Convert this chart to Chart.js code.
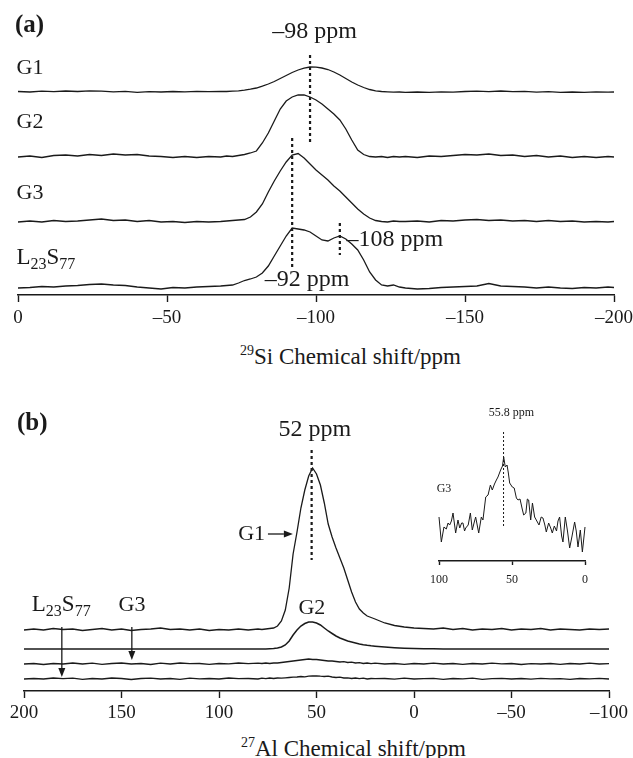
<!DOCTYPE html>
<html>
<head>
<meta charset="utf-8">
<script src="https://cdn.jsdelivr.net/npm/chart.js@4.4.0/dist/chart.umd.min.js"></script>
<style>
    body { margin: 0; background: #fff; }
    .figure { position: relative; width: 633px; height: 758px; overflow: hidden; font-family: "Liberation Serif", "Times New Roman", serif; color: #1a1a1a; }
    .figure canvas { position: absolute; }
    .label { position: absolute; white-space: nowrap; line-height: 24px; font-size: 23px; }
    .label sup { font-size: 14px; line-height: 0; vertical-align: 9px; }
    .panel { font-size: 25px; font-weight: bold; }
</style>
</head>
<body>
<div class="figure">
    <canvas id="siChart" width="633" height="335" style="left:0px;top:0px"></canvas>
    <canvas id="alChart" width="633" height="345" style="left:0px;top:380px"></canvas>
    <canvas id="insetChart" width="200" height="200" style="left:420px;top:395px"></canvas>
    <div class="label panel" style="left:15px;top:12px">(a)</div>
    <div class="label panel" style="left:17px;top:410px">(b)</div>
    <div class="label" style="left:240px;top:345px"><sup>29</sup>Si Chemical shift/ppm</div>
    <div class="label" style="left:241px;top:737px"><sup>27</sup>Al Chemical shift/ppm</div>
</div>
<script>
// Start data
const siShift = [0, -4, -8, -12, -16, -20, -24, -28, -32, -36, -40, -44, -48, -52, -56, -60, -64, -68,
    -70, -72, -74, -76, -78, -80, -82, -84, -86, -88, -90, -92, -94, -96, -98, -100,
    -102, -104, -106, -108, -110, -112, -114, -116, -118, -120, -122, -124, -126, -128, -130,
    -134, -138, -142, -146, -150, -154, -158, -162, -166, -170, -174, -178, -182, -186, -190, -194, -198, -200]
const siG1 = [0.5, 0, 0.8, 0.3, 1, 0.5, 1.2, 0.8, 0.2, 0.6, -0.3, 0.4, 0, 0.5, 0.2, 0.6, 0.3, 0.5,
    0.5, 0.8, 1.2, 1.8, 2.8, 4, 5.8, 8, 10.5, 13.5, 16.5, 19.5, 22, 23.8, 25, 24.8,
    24, 22.5, 20, 17, 13.5, 10, 7, 4.5, 2.5, 1.2, 0.5, 0.2, -0.2, 0, -0.4,
    0, -0.3, 0.2, -0.2, 0.5, 0.9, 0.4, 1, 0.3, 0.6, -0.2, 0.3, -0.4, 0, -0.3, 0.2, -0.2, 0]
const siG2 = [0, 1, -0.5, 1.5, 2, 1, 2.5, 1.5, 3, 2, 2.5, 1, 0.5, -0.5, 0.5, -0.5, 0.5, 0,
    1, 0.5, 1.5, 2.5, 4, 6, 14, 24, 36, 48, 56, 60, 62, 62, 60, 57,
    53, 48, 43, 37, 28, 17, 7, 2.5, 0.5, 0, 0.5, -0.5, 0.5, 0, 0.5,
    -0.5, 1, 0.5, 1.5, 2.5, 2, 3, 1.5, 2, 0.5, 1.5, 0, 1, -0.5, 0.5, -0.5, 0.5, 0]
const siG3 = [0, 1, 0, 1.5, 0.5, 1, 2, 3, 1.5, 2, 0.5, 1.5, 0, 0.5, -0.5, 0.5, 0, 0.5,
    1, 1.5, 2, 2.5, 5, 10, 18, 30, 41, 51, 60, 67, 68.5, 64, 58, 52,
    47, 42, 36, 31, 25, 19, 13, 8, 4, 1.5, 0.5, 0, 1, 0.5, 0.5,
    1, 0, 1.5, 1, 2, 2.5, 1.5, 2, 1, 1.5, 0.5, 1.5, 0.5, 1, 0, 0.5, 0, 0.5]
const siL23S77 = [0, 0.5, 1.5, 1, 2, 2.5, 3.5, 4, 3, 2.5, 1, 0, -1, 0.5, 0, 1, 1.5, 2,
    2.5, 3, 5, 7.5, 9, 11, 15, 22, 32, 42, 52, 60, 59, 58, 56, 52,
    48, 47, 50, 52, 49, 44, 38, 28, 16, 8, 3, 2, 3, 1, 0,
    -1, -0.5, 0.5, 1, 1.5, 2, 4.5, 2, 1.5, 1, 0, 1, 0, -0.5, 0.5, 0, 1, 0.5]

const alShift = [200, 195, 190, 185, 180, 175, 170, 165, 160, 155, 150, 145, 140, 135, 130, 125, 120, 115, 110, 105, 100, 95, 90, 85, 80,
    78, 76, 74, 72, 70, 68, 66, 64, 62, 60, 58, 56, 54, 52, 50, 48, 46, 44, 42, 40, 38, 36, 34, 32, 30, 28, 26, 24, 22, 20,
    15, 10, 5, 0, -5, -10, -15, -20, -25, -30, -35, -40, -45, -50, -55, -60, -65, -70, -75, -80, -85, -90, -95, -100]
const alG1 = [0, 1, 0, 1.5, 0.5, 1, -0.5, 0.5, 1.5, 0, 1, -0.5, 0.5, 1, 2, 0.5, 1, 0, 1, -0.5, 0.5, 0, 1, 0, 1,
    0.5, 1, 1.5, 2, 4, 9, 20, 42, 76, 98, 122, 140, 154, 162, 156, 145, 127, 106, 93, 82, 72, 62, 50, 38, 28, 21, 17, 14, 12.5, 11,
    7, 4.5, 3, 2, 1.5, 1, 2, 0.5, 1.5, 0, 1, 0.5, 1.5, 0, 1, 0.5, 1.5, 0, 1, 0.5, 0, 1, 0.5, 1]
const alG2 = [0, 0, 0, 0, 0, 0, 0, 0, 0, 0, 0, 0, 0, 0, 0, 0, 0, 0, 0, 0, 0, 0, 0, 0, 0,
    0, 0, 0.3, 0.5, 1, 2, 4, 8, 14, 19, 23, 25.5, 27, 27, 26, 24, 21, 18, 15.5, 13, 11, 9.5, 8, 7, 6, 5, 4.3, 3.7, 3.2, 2.8,
    2, 1.3, 0.8, 0.5, 0.3, 0.2, 0.1, 0, 0, 0, 0, 0, 0, 0, 0, 0, 0, 0, 0, 0, 0, 0, 0, 0]
const alG3 = [0, 0.5, -0.5, 0.5, 0, 1, 0, 0.8, -0.3, 0.5, 1, 0, 0.5, -0.5, 0.8, 0, 1, 0.3, 0.5, -0.3, 0.5, 0.2, 1, 0.3, 0.8,
    0.5, 1, 0.5, 1, 1, 1.5, 2, 2.5, 3, 3.5, 4, 4.5, 5, 4.5, 4.5, 4, 3.5, 3, 3, 2.5, 2, 2.3, 1.5, 1.8, 1, 1.3, 0.5, 1, 0.3, 0.8,
    0, 0.5, -0.3, 0.5, 0, 0.8, 0, 0.5, -0.3, 0.5, 0, 0.8, 0.2, 0.5, -0.5, 0.3, 0, 0.5, -0.3, 0.5, 0, 0.8, 0, 0.3]
const alL23S77 = [0, 0.5, 0, 1, 0.3, 0.8, -0.3, 0.5, 0, 1, 0.5, -0.5, 0.5, 0.8, 0, 0.5, -0.3, 0.8, 0.2, 0.5, 0, 1, 0.3, 0.5, 0,
    0.8, 0.3, 1, 0.5, 1, 0.8, 1.2, 1.5, 1.8, 2, 2.5, 2.2, 2.8, 3, 3.2, 2.8, 2.5, 2.8, 2, 1.5, 1.8, 1, 1.2, 0.5, 1, 0.3, 0.8, 0, 0.5, 0.3,
    0.5, -0.2, 0.8, 0, 0.3, 0.6, -0.3, 0.5, 0.1, 0.8, -0.4, 0.3, 0.6, 0, 0.5, -0.2, 0.7, 0.1, 0.4, -0.3, 0.5, 0.2, 0.6, 0]

const insetShift = [100, 98.4, 96.6, 95, 93.8, 92.7, 91.5, 90.4, 88.6, 87, 85.8, 84.5, 83.6, 82.5, 81.7,
    80, 78.5, 77.2, 76, 74.9, 72.8, 71, 69.9, 68, 66.4, 64.8, 63.5, 62, 60.7, 59.6,
    57.8, 56.5, 55.7, 54.6, 53.4, 52.5, 51.6, 49.8, 48.5, 47, 45.9, 44.5, 43, 42, 40.5,
    39.5, 38.6, 37.2, 36, 34.5, 33, 31.5, 30, 28.8, 27.5, 26.5, 24.9, 23.5, 22.4, 21,
    19.5, 18.5, 17.4, 16, 15.1, 13.5, 12, 10.5, 9, 7.1, 6, 4.8, 3.2, 1.8, 0]
const insetG3 = [44, 19, 34, 32, 38, 36, 40, 48, 28, 41, 33, 38, 38, 30, 33,
    36, 48, 31, 38, 44, 28, 44, 41, 64, 66, 76, 71, 77, 81, 84,
    91, 95, 104, 94, 96, 88, 78, 74, 73, 63, 61, 62, 52, 46, 48,
    62, 61, 41, 58, 44, 40, 36, 44, 43, 36, 29, 38, 33, 28, 35,
    30, 40, 44, 25, 19, 44, 30, 13, 24, 39, 30, 14, 31, 9, 34]

const siTicks = { min: -200, max: 0, step: 50 }
const alTicks = { min: -100, max: 200, step: 50 }
const insetTicks = { min: 0, max: 100, step: 50 }
// End data

const ink = '#1a1a1a'
const serif = '"Liberation Serif", "Times New Roman", serif'
const L23S77 = [['L', 0], ['23', 1], ['S', 0], ['77', 1]]

function spectrum(shift, values, offset, width) {
    return {
        data: shift.map((s, i) => ({ x: s, y: offset + values[i] })),
        borderColor: ink,
        borderWidth: width,
        pointRadius: 0,
        tension: 0,
        fill: false,
        clip: false
    }
}

function dashLabel(v) {
    return v < 0 ? '\u2013' + Math.abs(v) : String(v)
}

function xAxis(range, fontSize, tickLen, pad, height) {
    return {
        type: 'linear',
        min: range.min,
        max: range.max,
        reverse: true,
        ticks: { stepSize: range.step, color: ink, padding: pad, maxRotation: 0, font: { family: serif, size: fontSize }, callback: dashLabel },
        grid: { display: true, drawOnChartArea: false, drawTicks: true, tickLength: tickLen, tickColor: ink, tickWidth: 1.4 },
        border: { display: true, color: ink, width: 1.4 },
        afterFit: (scale) => {
            scale.height = height
            scale.paddingLeft = 0
            scale.paddingRight = 0
        }
    }
}

function drawParts(ctx, parts, x, y, size, align) {
    const subSize = Math.round(size * 0.68)
    const widths = parts.map((p) => {
        ctx.font = (p[1] ? subSize : size) + 'px ' + serif
        return ctx.measureText(p[0]).width
    })
    const total = widths.reduce((a, b) => a + b, 0)
    let cx = align === 'center' ? x - total / 2 : align === 'right' ? x - total : x
    parts.forEach((p, i) => {
        ctx.font = (p[1] ? subSize : size) + 'px ' + serif
        ctx.fillText(p[0], cx, p[1] ? y + size * 0.3 : y)
        cx += widths[i]
    })
}

function drawArrow(ctx, x0, y0, x1, y1) {
    const ang = Math.atan2(y1 - y0, x1 - x0)
    const head = 9, half = 3.5
    const bx = x1 - head * Math.cos(ang), by = y1 - head * Math.sin(ang)
    ctx.beginPath()
    ctx.moveTo(x0, y0)
    ctx.lineTo(bx, by)
    ctx.stroke()
    ctx.beginPath()
    ctx.moveTo(x1, y1)
    ctx.lineTo(bx + half * Math.sin(ang), by - half * Math.cos(ang))
    ctx.lineTo(bx - half * Math.sin(ang), by + half * Math.cos(ang))
    ctx.closePath()
    ctx.fill()
}

// annotations are placed in data units, through the chart's own scales
function marks(cfg) {
    return {
        id: 'marks',
        afterDatasetsDraw(chart) {
            const ctx = chart.ctx
            const xs = chart.scales.x, ys = chart.scales.y
            ctx.save()
            ctx.strokeStyle = ink
            ctx.fillStyle = ink;
            (cfg.dashes || []).forEach((d) => {
                ctx.lineWidth = d.width
                ctx.setLineDash(d.dash)
                ctx.beginPath()
                ctx.moveTo(xs.getPixelForValue(d.x), ys.getPixelForValue(d.y0))
                ctx.lineTo(xs.getPixelForValue(d.x), ys.getPixelForValue(d.y1))
                ctx.stroke()
            })
            ctx.setLineDash([])
            ctx.lineWidth = 1.3;
            (cfg.arrows || []).forEach((a) => {
                drawArrow(ctx, xs.getPixelForValue(a.x0), ys.getPixelForValue(a.y0), xs.getPixelForValue(a.x1), ys.getPixelForValue(a.y1))
            })
            ctx.textBaseline = 'middle'
            ctx.textAlign = 'left';
            (cfg.texts || []).forEach((t) => {
                const parts = t.parts || [[t.text, 0]]
                drawParts(ctx, parts, xs.getPixelForValue(t.x), ys.getPixelForValue(t.y), t.size, t.align)
            })
            ctx.restore()
        }
    }
}

// Start 29Si chart
const siMarks = {
    dashes: [
        { x: -98, y0: 240, y1: 150, width: 2.2, dash: [3, 3] },
        { x: -92, y0: 157, y1: 28, width: 2.2, dash: [3, 3] },
        { x: -108, y0: 72, y1: 40, width: 2.2, dash: [3, 3] }
    ],
    texts: [
        { text: '\u201398 ppm', x: -99.5, y: 263, size: 24, align: 'center' },
        { text: 'G1', x: 0.5, y: 227, size: 22, align: 'left' },
        { text: 'G2', x: 0.5, y: 173, size: 22, align: 'left' },
        { text: 'G3', x: 0.5, y: 102, size: 22, align: 'left' },
        { parts: L23S77, x: 0.5, y: 37, size: 23, align: 'left' },
        { text: '\u2013108 ppm', x: -110.2, y: 55, size: 24, align: 'left' },
        { text: '\u201392 ppm', x: -97, y: 15, size: 24, align: 'center' }
    ]
}

new Chart(document.getElementById('siChart'), {
    type: 'line',
    data: {
        datasets: [
            spectrum(siShift, siG1, 203, 1.3),
            spectrum(siShift, siG2, 138, 1.3),
            spectrum(siShift, siG3, 73, 1.3),
            spectrum(siShift, siL23S77, 7, 1.3)
        ]
    },
    options: {
        responsive: false,
        animation: false,
        layout: { padding: { top: 40, left: 18, right: 19, bottom: 0 } },
        plugins: { legend: { display: false }, tooltip: { enabled: false } },
        scales: {
            x: xAxis(siTicks, 19, 7, 5, 40),
            y: { display: false, min: 0, max: 255 }
        }
    },
    plugins: [marks(siMarks)]
})
// End 29Si chart

// Start 27Al chart
const alMarks = {
    dashes: [
        { x: 52.5, y0: 241, y1: 131, width: 2.2, dash: [3, 3] }
    ],
    arrows: [
        { x0: 74.9, y0: 157, x1: 62.1, y1: 157 },
        { x0: 180.6, y0: 64, x1: 180.6, y1: 14 },
        { x0: 144.7, y0: 64, x1: 144.7, y1: 31 }
    ],
    texts: [
        { text: '52 ppm', x: 50.8, y: 261, size: 24, align: 'center' },
        { text: 'G1', x: 76.4, y: 157, size: 22, align: 'right' },
        { text: 'G2', x: 52.4, y: 83, size: 22, align: 'center' },
        { parts: L23S77, x: 196, y: 86, size: 23, align: 'left' },
        { text: 'G3', x: 151.5, y: 86, size: 22, align: 'left' }
    ]
}

new Chart(document.getElementById('alChart'), {
    type: 'line',
    data: {
        datasets: [
            spectrum(alShift, alG1, 61, 1.3),
            spectrum(alShift, alG2, 42, 1.5),
            spectrum(alShift, alG3, 27, 1.3),
            spectrum(alShift, alL23S77, 12, 1.3)
        ]
    },
    options: {
        responsive: false,
        animation: false,
        layout: { padding: { top: 60, left: 24, right: 24, bottom: 0 } },
        plugins: { legend: { display: false }, tooltip: { enabled: false } },
        scales: {
            x: xAxis(alTicks, 19, 7, 4, 34),
            y: { display: false, min: 0, max: 251 }
        }
    },
    plugins: [marks(alMarks)]
})
// End 27Al chart

// Start inset chart
const insetMarks = {
    dashes: [
        { x: 55.8, y0: 129, y1: 33, width: 1, dash: [2, 2] }
    ],
    texts: [
        { text: '55.8 ppm', x: 50.4, y: 148, size: 12, align: 'center' },
        { text: 'G3', x: 101.6, y: 72, size: 12, align: 'left' }
    ]
}

new Chart(document.getElementById('insetChart'), {
    type: 'line',
    data: {
        datasets: [spectrum(insetShift, insetG3, 0, 1)]
    },
    options: {
        responsive: false,
        animation: false,
        layout: { padding: { top: 35, left: 19, right: 35, bottom: 0 } },
        plugins: { legend: { display: false }, tooltip: { enabled: false } },
        scales: {
            x: xAxis(insetTicks, 12, 4, 8, 34),
            y: { display: false, min: 0, max: 131 }
        }
    },
    plugins: [marks(insetMarks)]
})
// End inset chart
</script>
</body>
</html>
